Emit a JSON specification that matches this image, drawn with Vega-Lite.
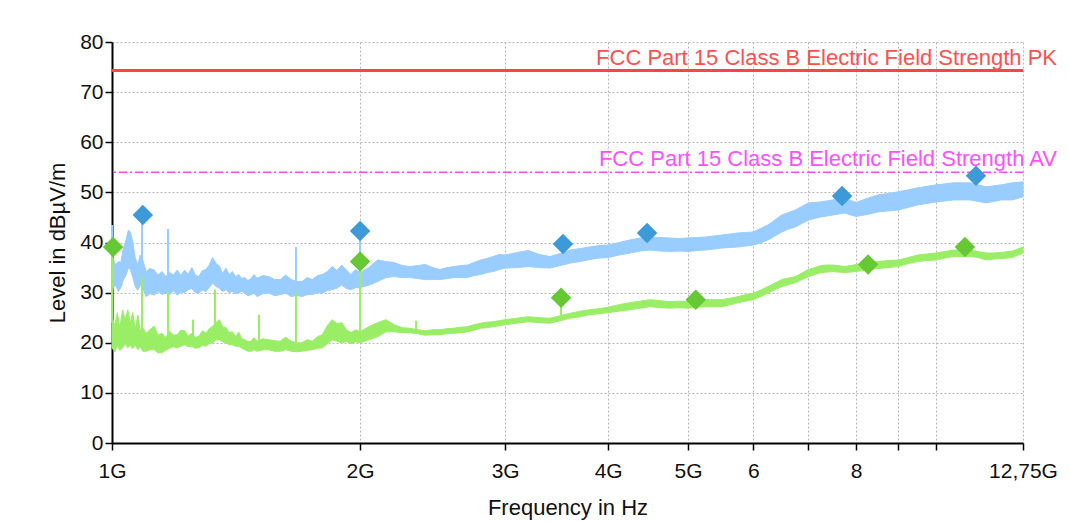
{
"$schema": "https://vega.github.io/schema/vega-lite/v6.json",
"width": 911, "height": 401,
"autosize": {"type": "none"},
"padding": {"left": 112, "top": 42, "right": 47, "bottom": 79},
"background": "#ffffff",
"config": {"view": {"stroke": null}, "font": "Liberation Sans",
 "axis": {"domainColor": "#000000", "domainWidth": 2, "tickColor": "#000000", "tickWidth": 1.5, "tickSize": 7,
  "labelFontSize": 21, "labelColor": "#111111", "titleFontSize": 22, "titleFontWeight": "normal", "titleColor": "#111111",
  "grid": true, "gridColor": "#b8b8b8", "gridDash": [2, 2], "gridWidth": 1, "labelOverlap": false, "labelFlush": false}},
"datasets": {
"pk": [
{"f":1.000,"lo":30.6,"hi":37.5},{"f":1.010,"lo":31.5,"hi":35.5},{"f":1.018,"lo":30.2,"hi":36.2},{"f":1.025,"lo":31.0,"hi":36.0},{"f":1.032,"lo":32.5,"hi":38.8},{"f":1.040,"lo":33.5,"hi":40.5},{"f":1.047,"lo":35.0,"hi":42.5},{"f":1.053,"lo":34.5,"hi":42.0},{"f":1.060,"lo":33.0,"hi":40.0},{"f":1.067,"lo":31.2,"hi":37.0},{"f":1.075,"lo":30.5,"hi":35.5},{"f":1.082,"lo":31.5,"hi":37.5},{"f":1.090,"lo":30.8,"hi":36.5},{"f":1.100,"lo":29.2,"hi":34.2},{"f":1.112,"lo":29.8,"hi":34.8},{"f":1.125,"lo":29.5,"hi":34.5},{"f":1.137,"lo":30.2,"hi":33.5},{"f":1.150,"lo":29.6,"hi":34.2},{"f":1.162,"lo":30.0,"hi":33.2},{"f":1.175,"lo":29.6,"hi":34.0},{"f":1.187,"lo":30.4,"hi":33.5},{"f":1.200,"lo":29.5,"hi":34.5},{"f":1.212,"lo":30.1,"hi":33.4},{"f":1.225,"lo":30.0,"hi":34.5},{"f":1.237,"lo":30.6,"hi":33.6},{"f":1.250,"lo":30.8,"hi":35.0},{"f":1.262,"lo":30.0,"hi":33.5},{"f":1.275,"lo":29.9,"hi":33.2},{"f":1.287,"lo":30.5,"hi":34.4},{"f":1.300,"lo":30.2,"hi":34.6},{"f":1.312,"lo":31.0,"hi":35.5},{"f":1.325,"lo":31.9,"hi":37.0},{"f":1.337,"lo":31.2,"hi":35.8},{"f":1.350,"lo":30.9,"hi":35.3},{"f":1.362,"lo":30.2,"hi":33.8},{"f":1.375,"lo":30.6,"hi":34.9},{"f":1.387,"lo":30.0,"hi":33.6},{"f":1.400,"lo":30.2,"hi":34.2},{"f":1.412,"lo":29.8,"hi":33.2},{"f":1.425,"lo":29.9,"hi":33.6},{"f":1.437,"lo":30.3,"hi":32.8},{"f":1.450,"lo":29.8,"hi":33.0},{"f":1.462,"lo":29.4,"hi":32.4},{"f":1.475,"lo":29.6,"hi":32.8},{"f":1.487,"lo":29.9,"hi":33.6},{"f":1.500,"lo":29.2,"hi":32.9},{"f":1.525,"lo":29.8,"hi":33.4},{"f":1.550,"lo":29.9,"hi":33.2},{"f":1.575,"lo":29.4,"hi":32.6},{"f":1.600,"lo":29.6,"hi":32.6},{"f":1.625,"lo":29.9,"hi":33.5},{"f":1.650,"lo":29.2,"hi":32.6},{"f":1.675,"lo":29.5,"hi":32.2},{"f":1.700,"lo":29.2,"hi":32.2},{"f":1.725,"lo":29.6,"hi":33.0},{"f":1.750,"lo":29.6,"hi":32.6},{"f":1.775,"lo":30.0,"hi":33.4},{"f":1.800,"lo":29.9,"hi":33.6},{"f":1.825,"lo":30.4,"hi":34.2},{"f":1.850,"lo":30.6,"hi":35.2},{"f":1.875,"lo":30.9,"hi":34.4},{"f":1.900,"lo":31.5,"hi":35.5},{"f":1.925,"lo":30.8,"hi":34.5},{"f":1.950,"lo":30.6,"hi":33.6},{"f":1.975,"lo":31.0,"hi":34.6},{"f":2.000,"lo":31.0,"hi":34.0},
{"f":2.05,"lo":31.5,"hi":35.0},{"f":2.10,"lo":32.2,"hi":36.5},{"f":2.15,"lo":33.0,"hi":36.2},{"f":2.20,"lo":33.2,"hi":36.0},{"f":2.25,"lo":33.0,"hi":35.4},{"f":2.30,"lo":33.0,"hi":35.2},{"f":2.35,"lo":32.8,"hi":35.4},{"f":2.40,"lo":32.6,"hi":35.6},{"f":2.45,"lo":32.6,"hi":35.0},{"f":2.50,"lo":32.6,"hi":34.6},{"f":2.55,"lo":32.8,"hi":35.0},{"f":2.60,"lo":33.0,"hi":35.2},{"f":2.65,"lo":33.0,"hi":35.4},{"f":2.70,"lo":33.0,"hi":35.5},{"f":2.75,"lo":33.4,"hi":36.0},{"f":2.80,"lo":33.6,"hi":36.5},{"f":2.85,"lo":34.0,"hi":36.8},{"f":2.90,"lo":34.2,"hi":37.2},{"f":2.95,"lo":34.6,"hi":37.6},{"f":3.00,"lo":34.9,"hi":37.5},{"f":3.10,"lo":35.0,"hi":38.0},{"f":3.20,"lo":35.2,"hi":38.4},{"f":3.30,"lo":35.0,"hi":37.6},{"f":3.40,"lo":34.9,"hi":37.2},{"f":3.50,"lo":35.4,"hi":37.8},{"f":3.60,"lo":35.9,"hi":38.5},{"f":3.70,"lo":36.2,"hi":38.8},{"f":3.80,"lo":36.6,"hi":39.1},{"f":3.90,"lo":36.9,"hi":39.4},{"f":4.00,"lo":37.0,"hi":39.5},{"f":4.125,"lo":37.5,"hi":40.0},{"f":4.25,"lo":37.9,"hi":40.5},{"f":4.375,"lo":38.3,"hi":40.9},{"f":4.50,"lo":38.5,"hi":41.1},{"f":4.625,"lo":38.3,"hi":41.0},{"f":4.75,"lo":38.2,"hi":40.9},{"f":4.875,"lo":38.3,"hi":40.8},{"f":5.00,"lo":38.2,"hi":40.9},{"f":5.125,"lo":38.4,"hi":41.0},{"f":5.25,"lo":38.5,"hi":41.1},{"f":5.375,"lo":38.7,"hi":41.3},{"f":5.50,"lo":38.9,"hi":41.5},{"f":5.625,"lo":39.0,"hi":41.7},{"f":5.75,"lo":39.1,"hi":41.9},{"f":5.875,"lo":39.3,"hi":42.0},{"f":6.00,"lo":39.5,"hi":42.1},{"f":6.125,"lo":39.9,"hi":42.8},{"f":6.25,"lo":40.5,"hi":43.5},{"f":6.375,"lo":41.3,"hi":44.5},{"f":6.50,"lo":42.1,"hi":45.5},{"f":6.625,"lo":42.7,"hi":46.0},{"f":6.75,"lo":43.1,"hi":46.5},{"f":6.875,"lo":43.8,"hi":47.2},{"f":7.00,"lo":44.5,"hi":47.9},{"f":7.125,"lo":44.8,"hi":48.0},{"f":7.25,"lo":45.1,"hi":48.1},{"f":7.375,"lo":45.3,"hi":48.3},{"f":7.50,"lo":45.5,"hi":48.5},{"f":7.625,"lo":45.7,"hi":48.7},{"f":7.75,"lo":45.9,"hi":48.9},{"f":7.875,"lo":45.5,"hi":48.4},{"f":8.00,"lo":45.2,"hi":48.0},{"f":8.25,"lo":45.6,"hi":48.8},{"f":8.50,"lo":46.1,"hi":49.5},{"f":8.75,"lo":46.3,"hi":49.8},{"f":9.00,"lo":46.5,"hi":50.1},{"f":9.25,"lo":47.0,"hi":50.5},{"f":9.50,"lo":47.5,"hi":50.9},{"f":9.75,"lo":47.8,"hi":51.2},{"f":10.0,"lo":48.1,"hi":51.5},{"f":10.25,"lo":48.3,"hi":51.7},{"f":10.5,"lo":48.5,"hi":51.9},{"f":10.75,"lo":48.5,"hi":51.9},{"f":11.0,"lo":48.5,"hi":51.9},{"f":11.25,"lo":48.2,"hi":51.5},{"f":11.5,"lo":47.9,"hi":51.1},{"f":11.75,"lo":48.2,"hi":51.3},{"f":12.0,"lo":48.5,"hi":51.5},{"f":12.375,"lo":48.5,"hi":51.9},{"f":12.75,"lo":49.1,"hi":52.1}],
"av": [
{"f":1.000,"lo":19.0,"hi":25.0},{"f":1.008,"lo":18.2,"hi":23.5},{"f":1.015,"lo":19.5,"hi":26.0},{"f":1.022,"lo":18.5,"hi":23.0},{"f":1.030,"lo":19.0,"hi":26.5},{"f":1.038,"lo":19.8,"hi":24.5},{"f":1.045,"lo":19.0,"hi":26.6},{"f":1.052,"lo":19.5,"hi":24.0},{"f":1.060,"lo":18.8,"hi":26.0},{"f":1.067,"lo":19.6,"hi":22.8},{"f":1.075,"lo":18.6,"hi":25.5},{"f":1.082,"lo":19.2,"hi":22.5},{"f":1.090,"lo":18.3,"hi":23.0},{"f":1.100,"lo":18.3,"hi":21.9},{"f":1.112,"lo":18.6,"hi":22.6},{"f":1.125,"lo":18.6,"hi":23.3},{"f":1.137,"lo":18.0,"hi":21.5},{"f":1.150,"lo":18.0,"hi":21.9},{"f":1.162,"lo":18.5,"hi":21.0},{"f":1.175,"lo":18.9,"hi":22.3},{"f":1.187,"lo":19.2,"hi":21.5},{"f":1.200,"lo":19.0,"hi":21.6},{"f":1.212,"lo":19.3,"hi":22.5},{"f":1.225,"lo":19.6,"hi":22.4},{"f":1.237,"lo":19.2,"hi":21.3},{"f":1.250,"lo":19.3,"hi":21.9},{"f":1.262,"lo":18.9,"hi":21.0},{"f":1.275,"lo":19.0,"hi":21.3},{"f":1.287,"lo":19.5,"hi":22.4},{"f":1.300,"lo":19.3,"hi":21.9},{"f":1.312,"lo":19.8,"hi":22.8},{"f":1.325,"lo":20.0,"hi":23.3},{"f":1.337,"lo":20.6,"hi":24.0},{"f":1.350,"lo":20.6,"hi":24.6},{"f":1.362,"lo":20.2,"hi":23.2},{"f":1.375,"lo":20.0,"hi":23.0},{"f":1.387,"lo":19.6,"hi":22.0},{"f":1.400,"lo":19.6,"hi":22.2},{"f":1.412,"lo":19.3,"hi":21.2},{"f":1.425,"lo":19.3,"hi":22.1},{"f":1.437,"lo":18.9,"hi":20.8},{"f":1.450,"lo":18.6,"hi":20.6},{"f":1.462,"lo":18.3,"hi":20.2},{"f":1.475,"lo":18.3,"hi":20.3},{"f":1.487,"lo":18.6,"hi":21.0},{"f":1.500,"lo":18.3,"hi":20.3},{"f":1.525,"lo":18.6,"hi":20.8},{"f":1.550,"lo":18.6,"hi":20.6},{"f":1.575,"lo":18.3,"hi":20.4},{"f":1.600,"lo":18.3,"hi":20.3},{"f":1.625,"lo":18.6,"hi":21.1},{"f":1.650,"lo":18.3,"hi":20.3},{"f":1.675,"lo":18.2,"hi":20.0},{"f":1.700,"lo":18.3,"hi":20.0},{"f":1.725,"lo":18.5,"hi":20.6},{"f":1.750,"lo":18.6,"hi":20.3},{"f":1.775,"lo":18.9,"hi":21.2},{"f":1.800,"lo":19.0,"hi":21.6},{"f":1.825,"lo":19.8,"hi":23.4},{"f":1.850,"lo":20.6,"hi":24.6},{"f":1.875,"lo":20.3,"hi":23.8},{"f":1.900,"lo":20.0,"hi":24.0},{"f":1.925,"lo":20.2,"hi":22.6},{"f":1.950,"lo":19.8,"hi":22.0},{"f":1.975,"lo":20.2,"hi":22.6},{"f":2.000,"lo":20.0,"hi":22.2},
{"f":2.05,"lo":20.6,"hi":23.2},{"f":2.10,"lo":21.2,"hi":24.0},{"f":2.15,"lo":22.2,"hi":24.6},{"f":2.20,"lo":22.2,"hi":23.6},{"f":2.25,"lo":22.0,"hi":23.0},{"f":2.30,"lo":22.0,"hi":22.9},{"f":2.35,"lo":21.8,"hi":22.6},{"f":2.40,"lo":21.5,"hi":22.4},{"f":2.45,"lo":21.6,"hi":22.6},{"f":2.50,"lo":21.6,"hi":22.6},{"f":2.55,"lo":21.8,"hi":22.8},{"f":2.60,"lo":21.9,"hi":22.9},{"f":2.65,"lo":22.0,"hi":23.1},{"f":2.70,"lo":22.2,"hi":23.2},{"f":2.75,"lo":22.5,"hi":23.6},{"f":2.80,"lo":22.9,"hi":23.9},{"f":2.85,"lo":23.0,"hi":24.1},{"f":2.90,"lo":23.2,"hi":24.2},{"f":2.95,"lo":23.4,"hi":24.4},{"f":3.00,"lo":23.6,"hi":24.6},{"f":3.10,"lo":23.9,"hi":24.9},{"f":3.20,"lo":24.2,"hi":25.2},{"f":3.30,"lo":24.0,"hi":25.0},{"f":3.40,"lo":23.9,"hi":24.9},{"f":3.50,"lo":24.4,"hi":25.4},{"f":3.60,"lo":24.9,"hi":25.9},{"f":3.70,"lo":25.2,"hi":26.3},{"f":3.80,"lo":25.6,"hi":26.6},{"f":3.90,"lo":25.8,"hi":26.8},{"f":4.00,"lo":26.0,"hi":27.1},{"f":4.125,"lo":26.3,"hi":27.6},{"f":4.25,"lo":26.6,"hi":28.0},{"f":4.375,"lo":26.9,"hi":28.3},{"f":4.50,"lo":27.2,"hi":28.6},{"f":4.625,"lo":27.0,"hi":28.4},{"f":4.75,"lo":26.9,"hi":28.2},{"f":4.875,"lo":27.0,"hi":28.3},{"f":5.00,"lo":26.9,"hi":28.2},{"f":5.125,"lo":27.1,"hi":28.4},{"f":5.25,"lo":27.2,"hi":28.6},{"f":5.375,"lo":27.2,"hi":28.6},{"f":5.50,"lo":27.2,"hi":28.6},{"f":5.625,"lo":27.6,"hi":28.9},{"f":5.75,"lo":28.0,"hi":29.2},{"f":5.875,"lo":28.3,"hi":29.6},{"f":6.00,"lo":28.6,"hi":29.9},{"f":6.125,"lo":29.2,"hi":30.5},{"f":6.25,"lo":29.9,"hi":31.2},{"f":6.375,"lo":30.6,"hi":31.9},{"f":6.50,"lo":31.2,"hi":32.6},{"f":6.625,"lo":31.6,"hi":32.9},{"f":6.75,"lo":32.0,"hi":33.2},{"f":6.875,"lo":32.6,"hi":33.9},{"f":7.00,"lo":33.2,"hi":34.6},{"f":7.125,"lo":33.6,"hi":35.0},{"f":7.25,"lo":34.0,"hi":35.4},{"f":7.375,"lo":34.1,"hi":35.5},{"f":7.50,"lo":34.2,"hi":35.5},{"f":7.75,"lo":34.0,"hi":35.2},{"f":8.00,"lo":34.2,"hi":35.6},{"f":8.25,"lo":34.6,"hi":36.0},{"f":8.50,"lo":34.8,"hi":36.2},{"f":8.75,"lo":35.0,"hi":36.4},{"f":9.00,"lo":35.2,"hi":36.5},{"f":9.25,"lo":35.8,"hi":37.0},{"f":9.50,"lo":36.2,"hi":37.5},{"f":9.75,"lo":36.4,"hi":37.7},{"f":10.0,"lo":36.5,"hi":37.9},{"f":10.25,"lo":36.9,"hi":38.2},{"f":10.5,"lo":37.2,"hi":38.5},{"f":10.75,"lo":37.2,"hi":38.5},{"f":11.0,"lo":37.2,"hi":38.5},{"f":11.25,"lo":37.0,"hi":38.2},{"f":11.5,"lo":36.5,"hi":37.9},{"f":11.75,"lo":36.7,"hi":37.9},{"f":12.0,"lo":36.8,"hi":38.0},{"f":12.375,"lo":37.0,"hi":38.3},{"f":12.75,"lo":37.9,"hi":39.1}],
"spk": [
{"f":1.0,"s":"PK","lo":37,"hi":43.5},{"f":1.0874,"s":"PK","lo":36,"hi":45.5},{"f":1.1694,"s":"PK","lo":33,"hi":42.7},{"f":1.672,"s":"PK","lo":32,"hi":39.1},{"f":2.0,"s":"PK","lo":34,"hi":42.3}],
"spa": [
{"f":1.0,"s":"AV","lo":24,"hi":39},{"f":1.0874,"s":"AV","lo":22,"hi":33.2},{"f":1.1694,"s":"AV","lo":21,"hi":30},{"f":1.254,"s":"AV","lo":21,"hi":24.6},{"f":1.3335,"s":"AV","lo":23,"hi":30.6},{"f":1.508,"s":"AV","lo":20,"hi":25.6},{"f":1.672,"s":"AV","lo":20,"hi":30},{"f":2.0,"s":"AV","lo":22,"hi":36},{"f":2.339,"s":"AV","lo":22.5,"hi":24.4},{"f":3.507,"s":"AV","lo":25,"hi":29}],
"mk": [
{"f":1.090,"s":"PK","v":45.5},{"f":2.0,"s":"PK","v":42.3},{"f":3.526,"s":"PK","v":39.7},{"f":4.46,"s":"PK","v":41.9},{"f":7.69,"s":"PK","v":49.3},{"f":11.18,"s":"PK","v":53.3},
{"f":1.003,"s":"AV","v":39.1},{"f":2.0,"s":"AV","v":36.2},{"f":3.507,"s":"AV","v":29.0},{"f":5.11,"s":"AV","v":28.6},{"f":8.27,"s":"AV","v":35.6},{"f":10.84,"s":"AV","v":39.1}],
"lim": [
{"name":"PK","v":74.3,"label":"FCC Part 15 Class B Electric Field Strength PK"},
{"name":"AV","v":54,"label":"FCC Part 15 Class B Electric Field Strength AV"}]
},
"layer": [
{"data": {"name": "pk"}, "mark": {"type": "area", "color": "#99ccff", "stroke": "#99ccff", "strokeWidth": 1},
 "encoding": {
  "x": {"field": "f", "type": "quantitative", "scale": {"type": "log", "domain": [1, 12.75], "nice": false},
   "axis": {"title": "Frequency in Hz", "values": [1,2,3,4,5,6,7,8,9,10,12.75],
    "labelExpr": "datum.value==1?'1G':datum.value==2?'2G':datum.value==3?'3G':datum.value==4?'4G':datum.value==5?'5G':datum.value==6?'6':datum.value==8?'8':datum.value==12.75?'12,75G':''",
    "labelPadding": 10, "titlePadding": 16}},
  "y": {"field": "hi", "type": "quantitative", "scale": {"domain": [0, 80], "nice": false},
   "axis": {"title": "Level in dBµV/m", "values": [0,5,10,15,20,25,30,35,40,45,50,55,60,65,70,75,80],
    "labelExpr": "datum.value % 10 == 0 ? datum.label : ''", "labelPadding": 2, "titlePadding": 10}},
  "y2": {"field": "lo"}}},
{"data": {"name": "spk"}, "mark": {"type": "rule", "color": "#99ccff", "strokeWidth": 2},
 "encoding": {"x": {"field": "f", "type": "quantitative"}, "y": {"field": "hi", "type": "quantitative"}, "y2": {"field": "lo"}}},
{"data": {"name": "av"}, "mark": {"type": "area", "color": "#99ee66", "stroke": "#99ee66", "strokeWidth": 1},
 "encoding": {"x": {"field": "f", "type": "quantitative"}, "y": {"field": "hi", "type": "quantitative"}, "y2": {"field": "lo"}}},
{"data": {"name": "spa"}, "mark": {"type": "rule", "color": "#99ee66", "strokeWidth": 2},
 "encoding": {"x": {"field": "f", "type": "quantitative"}, "y": {"field": "hi", "type": "quantitative"}, "y2": {"field": "lo"}}},
{"data": {"name": "lim"}, "transform": [{"filter": "datum.name == 'PK'"}], "mark": {"type": "rule", "color": "#ff4444", "strokeWidth": 3},
 "encoding": {"y": {"field": "v", "type": "quantitative"}}},
{"data": {"name": "lim"}, "transform": [{"filter": "datum.name == 'AV'"}], "mark": {"type": "rule", "color": "#ff44ff", "strokeWidth": 1.5, "strokeDash": [8, 3, 2, 3]},
 "encoding": {"y": {"field": "v", "type": "quantitative"}}},
{"data": {"name": "lim"}, "mark": {"type": "text", "align": "right", "baseline": "alphabetic", "dx": 34, "dy": -6, "fontSize": 22, "font": "Liberation Sans"},
 "encoding": {"x": {"datum": 12.75, "type": "quantitative"}, "y": {"field": "v", "type": "quantitative"}, "text": {"field": "label"},
  "color": {"field": "name", "type": "nominal", "scale": {"domain": ["PK", "AV", "PKm", "AVm"], "range": ["#ff5050", "#ff50ff", "#3d9ad9", "#66c833"]}, "legend": null}}},
{"data": {"name": "mk"}, "transform": [{"calculate": "datum.s + 'm'", "as": "name"}], "mark": {"type": "point", "shape": "diamond", "filled": true, "size": 420, "opacity": 1},
 "encoding": {"x": {"field": "f", "type": "quantitative"}, "y": {"field": "v", "type": "quantitative"},
  "color": {"field": "name", "type": "nominal", "legend": null}}}
]
}
